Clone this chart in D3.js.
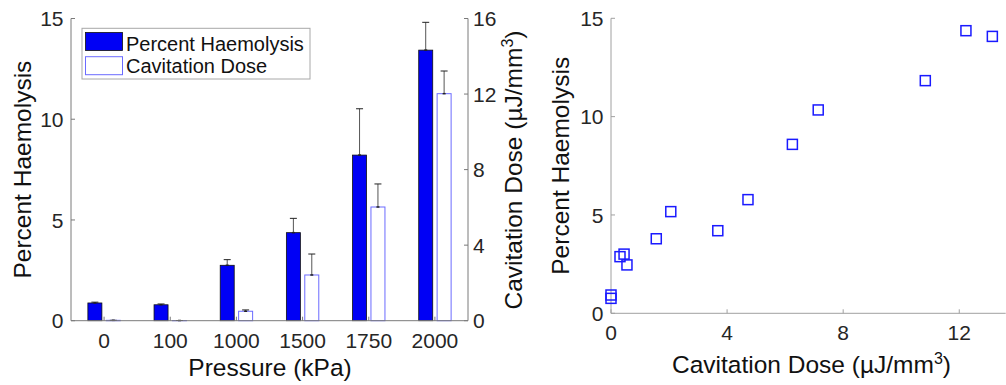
<!DOCTYPE html>
<html>
<head>
<meta charset="utf-8">
<script src="https://cdn.jsdelivr.net/npm/d3@7"></script>
<style>
  body { margin: 0; background: #fff; }
  svg { display: block; font-family: "Liberation Sans", Arial, sans-serif; }
  .tick-label { fill: #262626; font-size: 21px; }
  .axis-label { fill: #111; font-size: 24.5px; }
</style>
</head>
<body>
<svg id="chart" width="1006" height="385"></svg>
<script>
// bar chart data
const pressures = ["0", "100", "1000", "1500", "1750", "2000"];
const haemolysis = [0.88, 0.79, 2.75, 4.37, 8.22, 13.43];
const haemolysisErr = [0.04, 0.04, 0.28, 0.71, 2.3, 1.38];
const dose = [0.02, 0.01, 0.5, 2.42, 6.02, 12.02];
const doseErr = [0.0, 0.0, 0.07, 1.11, 1.22, 1.2];

// scatter data
const scatterDose = [0.0, 0.0, 0.31, 0.45, 0.55, 1.56, 2.06, 3.68, 4.72, 6.25, 7.14, 10.83, 12.23, 13.14];
const scatterHaem = [0.93, 0.76, 2.88, 3.01, 2.46, 3.79, 5.17, 4.2, 5.78, 8.59, 10.34, 11.83, 14.37, 14.08];

const leftTicks = [0, 5, 10, 15];
const rightTicks = [0, 4, 8, 12, 16];
const scatterXTicks = [0, 4, 8, 12];
const scatterYTicks = [0, 5, 10, 15];

const svg = d3.select("#chart");

// ---------- left panel: grouped bars ----------
const L = { left: 71, right: 468, top: 18.5, bottom: 320.7 };
const xi = d3.scaleLinear().domain([0.5, 6.5]).range([L.left, L.right]);
const yL = d3.scaleLinear().domain([0, 15]).range([L.bottom, L.top]);
const yR = d3.scaleLinear().domain([0, 16]).range([L.bottom, L.top]);
const barW = 14, off = 9.2;

const gL = svg.append("g");

// blue bars
gL.selectAll(".hbar").data(haemolysis).enter().append("rect")
  .attr("x", (d, i) => xi(i + 1) - off - barW / 2)
  .attr("y", d => yL(d))
  .attr("width", barW)
  .attr("height", d => yL(0) - yL(d))
  .attr("fill", "#0000f5")
  .attr("stroke", "#111")
  .attr("stroke-width", 0.8);

// white bars
gL.selectAll(".dbar").data(dose).enter().append("rect")
  .attr("x", (d, i) => xi(i + 1) + off - barW / 2)
  .attr("y", d => yR(d))
  .attr("width", barW)
  .attr("height", d => yR(0) - yR(d))
  .attr("fill", "#fff")
  .attr("stroke", "#6b6bff")
  .attr("stroke-width", 1);

// error bars (upper only)
function errBars(vals, errs, y, dx) {
  vals.forEach((v, i) => {
    const cx = xi(i + 1) + dx;
    gL.append("line").attr("x1", cx).attr("x2", cx)
      .attr("y1", y(v)).attr("y2", y(v + errs[i]))
      .attr("stroke", "#555").attr("stroke-width", 1);
    gL.append("line").attr("x1", cx - 3.5).attr("x2", cx + 3.5)
      .attr("y1", y(v + errs[i])).attr("y2", y(v + errs[i]))
      .attr("stroke", "#222").attr("stroke-width", 1);
    gL.append("line").attr("x1", cx - 1.5).attr("x2", cx + 1.5)
      .attr("y1", y(v)).attr("y2", y(v))
      .attr("stroke", "#222").attr("stroke-width", 1.5);
  });
}
errBars(haemolysis, haemolysisErr, yL, -off);
errBars(dose, doseErr, yR, off);

// axes lines
const axisCol = "#7a7a7a";
gL.append("line").attr("x1", L.left).attr("x2", L.left).attr("y1", L.top).attr("y2", L.bottom).attr("stroke", axisCol);
gL.append("line").attr("x1", L.right).attr("x2", L.right).attr("y1", L.top).attr("y2", L.bottom).attr("stroke", axisCol);
gL.append("line").attr("x1", L.left).attr("x2", L.right).attr("y1", L.bottom).attr("y2", L.bottom).attr("stroke", axisCol);

// left ticks
leftTicks.forEach(t => {
  gL.append("line").attr("x1", L.left).attr("x2", L.left + 4).attr("y1", yL(t)).attr("y2", yL(t)).attr("stroke", axisCol);
  gL.append("text").attr("class", "tick-label").attr("x", 63.5).attr("y", yL(t)).attr("dy", "0.36em")
    .attr("text-anchor", "end").text(t);
});
// right ticks
rightTicks.forEach(t => {
  gL.append("line").attr("x1", L.right).attr("x2", L.right - 4).attr("y1", yR(t)).attr("y2", yR(t)).attr("stroke", axisCol);
  gL.append("text").attr("class", "tick-label").attr("x", 473).attr("y", yR(t)).attr("dy", "0.36em")
    .attr("text-anchor", "start").text(t);
});
// category ticks
pressures.forEach((p, i) => {
  gL.append("line").attr("x1", xi(i + 1)).attr("x2", xi(i + 1)).attr("y1", L.bottom).attr("y2", L.bottom - 4).attr("stroke", axisCol);
  gL.append("text").attr("class", "tick-label").attr("x", xi(i + 1)).attr("y", 348)
    .attr("text-anchor", "middle").text(p);
});

gL.append("text").attr("class", "axis-label").attr("x", 270).attr("y", 376)
  .attr("text-anchor", "middle").text("Pressure (kPa)");
gL.append("text").attr("class", "axis-label")
  .attr("transform", "translate(31,169.6) rotate(-90)")
  .attr("text-anchor", "middle").text("Percent Haemolysis");
const rl = gL.append("text").attr("class", "axis-label")
  .attr("transform", "translate(522,170) rotate(-90)")
  .attr("text-anchor", "middle");
rl.append("tspan").text("Cavitation Dose (\u00b5J/mm");
rl.append("tspan").attr("font-size", "16px").attr("dy", "-9").text("3");
rl.append("tspan").attr("dy", "9").text(")");

// legend
const lg = gL.append("g");
lg.append("rect").attr("x", 82).attr("y", 28.3).attr("width", 228).attr("height", 50.7)
  .attr("fill", "#fff").attr("stroke", "#a8a8a8").attr("stroke-width", 1);
lg.append("rect").attr("x", 85.5).attr("y", 32.5).attr("width", 37).attr("height", 18)
  .attr("fill", "#0000f5").attr("stroke", "#111").attr("stroke-width", 0.8);
lg.append("rect").attr("x", 85.5).attr("y", 56.7).attr("width", 37).attr("height", 18)
  .attr("fill", "#fff").attr("stroke", "#6b6bff").attr("stroke-width", 1);
lg.append("text").attr("x", 126).attr("y", 43.3).attr("dy", "0.36em").attr("font-size", "20px").attr("fill", "#111").text("Percent Haemolysis");
lg.append("text").attr("x", 126).attr("y", 66).attr("dy", "0.36em").attr("font-size", "20px").attr("fill", "#111").text("Cavitation Dose");

// ---------- right panel: scatter ----------
const R = { left: 611, right: 1005.7, top: 18.3, bottom: 313.3 };
const xs = d3.scaleLinear().domain([0, 13.6]).range([R.left, R.right]);
const ys = d3.scaleLinear().domain([0, 15]).range([R.bottom, R.top]);
const gR = svg.append("g");
const axisCol2 = "#a0a0a0";

gR.append("line").attr("x1", R.left).attr("x2", R.left).attr("y1", R.top).attr("y2", R.bottom).attr("stroke", axisCol2);
gR.append("line").attr("x1", R.left).attr("x2", R.right).attr("y1", R.bottom).attr("y2", R.bottom).attr("stroke", axisCol2);

scatterYTicks.forEach(t => {
  gR.append("line").attr("x1", R.left).attr("x2", R.left + 4).attr("y1", ys(t)).attr("y2", ys(t)).attr("stroke", axisCol2);
  gR.append("text").attr("class", "tick-label").attr("x", 603.5).attr("y", ys(t)).attr("dy", "0.36em")
    .attr("text-anchor", "end").text(t);
});
scatterXTicks.forEach(t => {
  gR.append("line").attr("x1", xs(t)).attr("x2", xs(t)).attr("y1", R.bottom).attr("y2", R.bottom - 4).attr("stroke", axisCol2);
  gR.append("text").attr("class", "tick-label").attr("x", xs(t)).attr("y", 340)
    .attr("text-anchor", "middle").text(t);
});

const sq = 10;
gR.selectAll(".pt").data(scatterDose).enter().append("rect")
  .attr("x", (d, i) => xs(d) - sq / 2)
  .attr("y", (d, i) => ys(scatterHaem[i]) - sq / 2)
  .attr("width", sq).attr("height", sq)
  .attr("fill", "none").attr("stroke", "#1a1aff").attr("stroke-width", 1.5);

gR.append("text").attr("class", "axis-label")
  .attr("transform", "translate(569,165.8) rotate(-90)")
  .attr("text-anchor", "middle").text("Percent Haemolysis");
const xl = gR.append("text").attr("class", "axis-label").attr("x", 811.5).attr("y", 373)
  .attr("text-anchor", "middle");
xl.append("tspan").text("Cavitation Dose (\u00b5J/mm");
xl.append("tspan").attr("font-size", "16px").attr("dy", "-9").text("3");
xl.append("tspan").attr("dy", "9").text(")");
</script>
</body>
</html>
